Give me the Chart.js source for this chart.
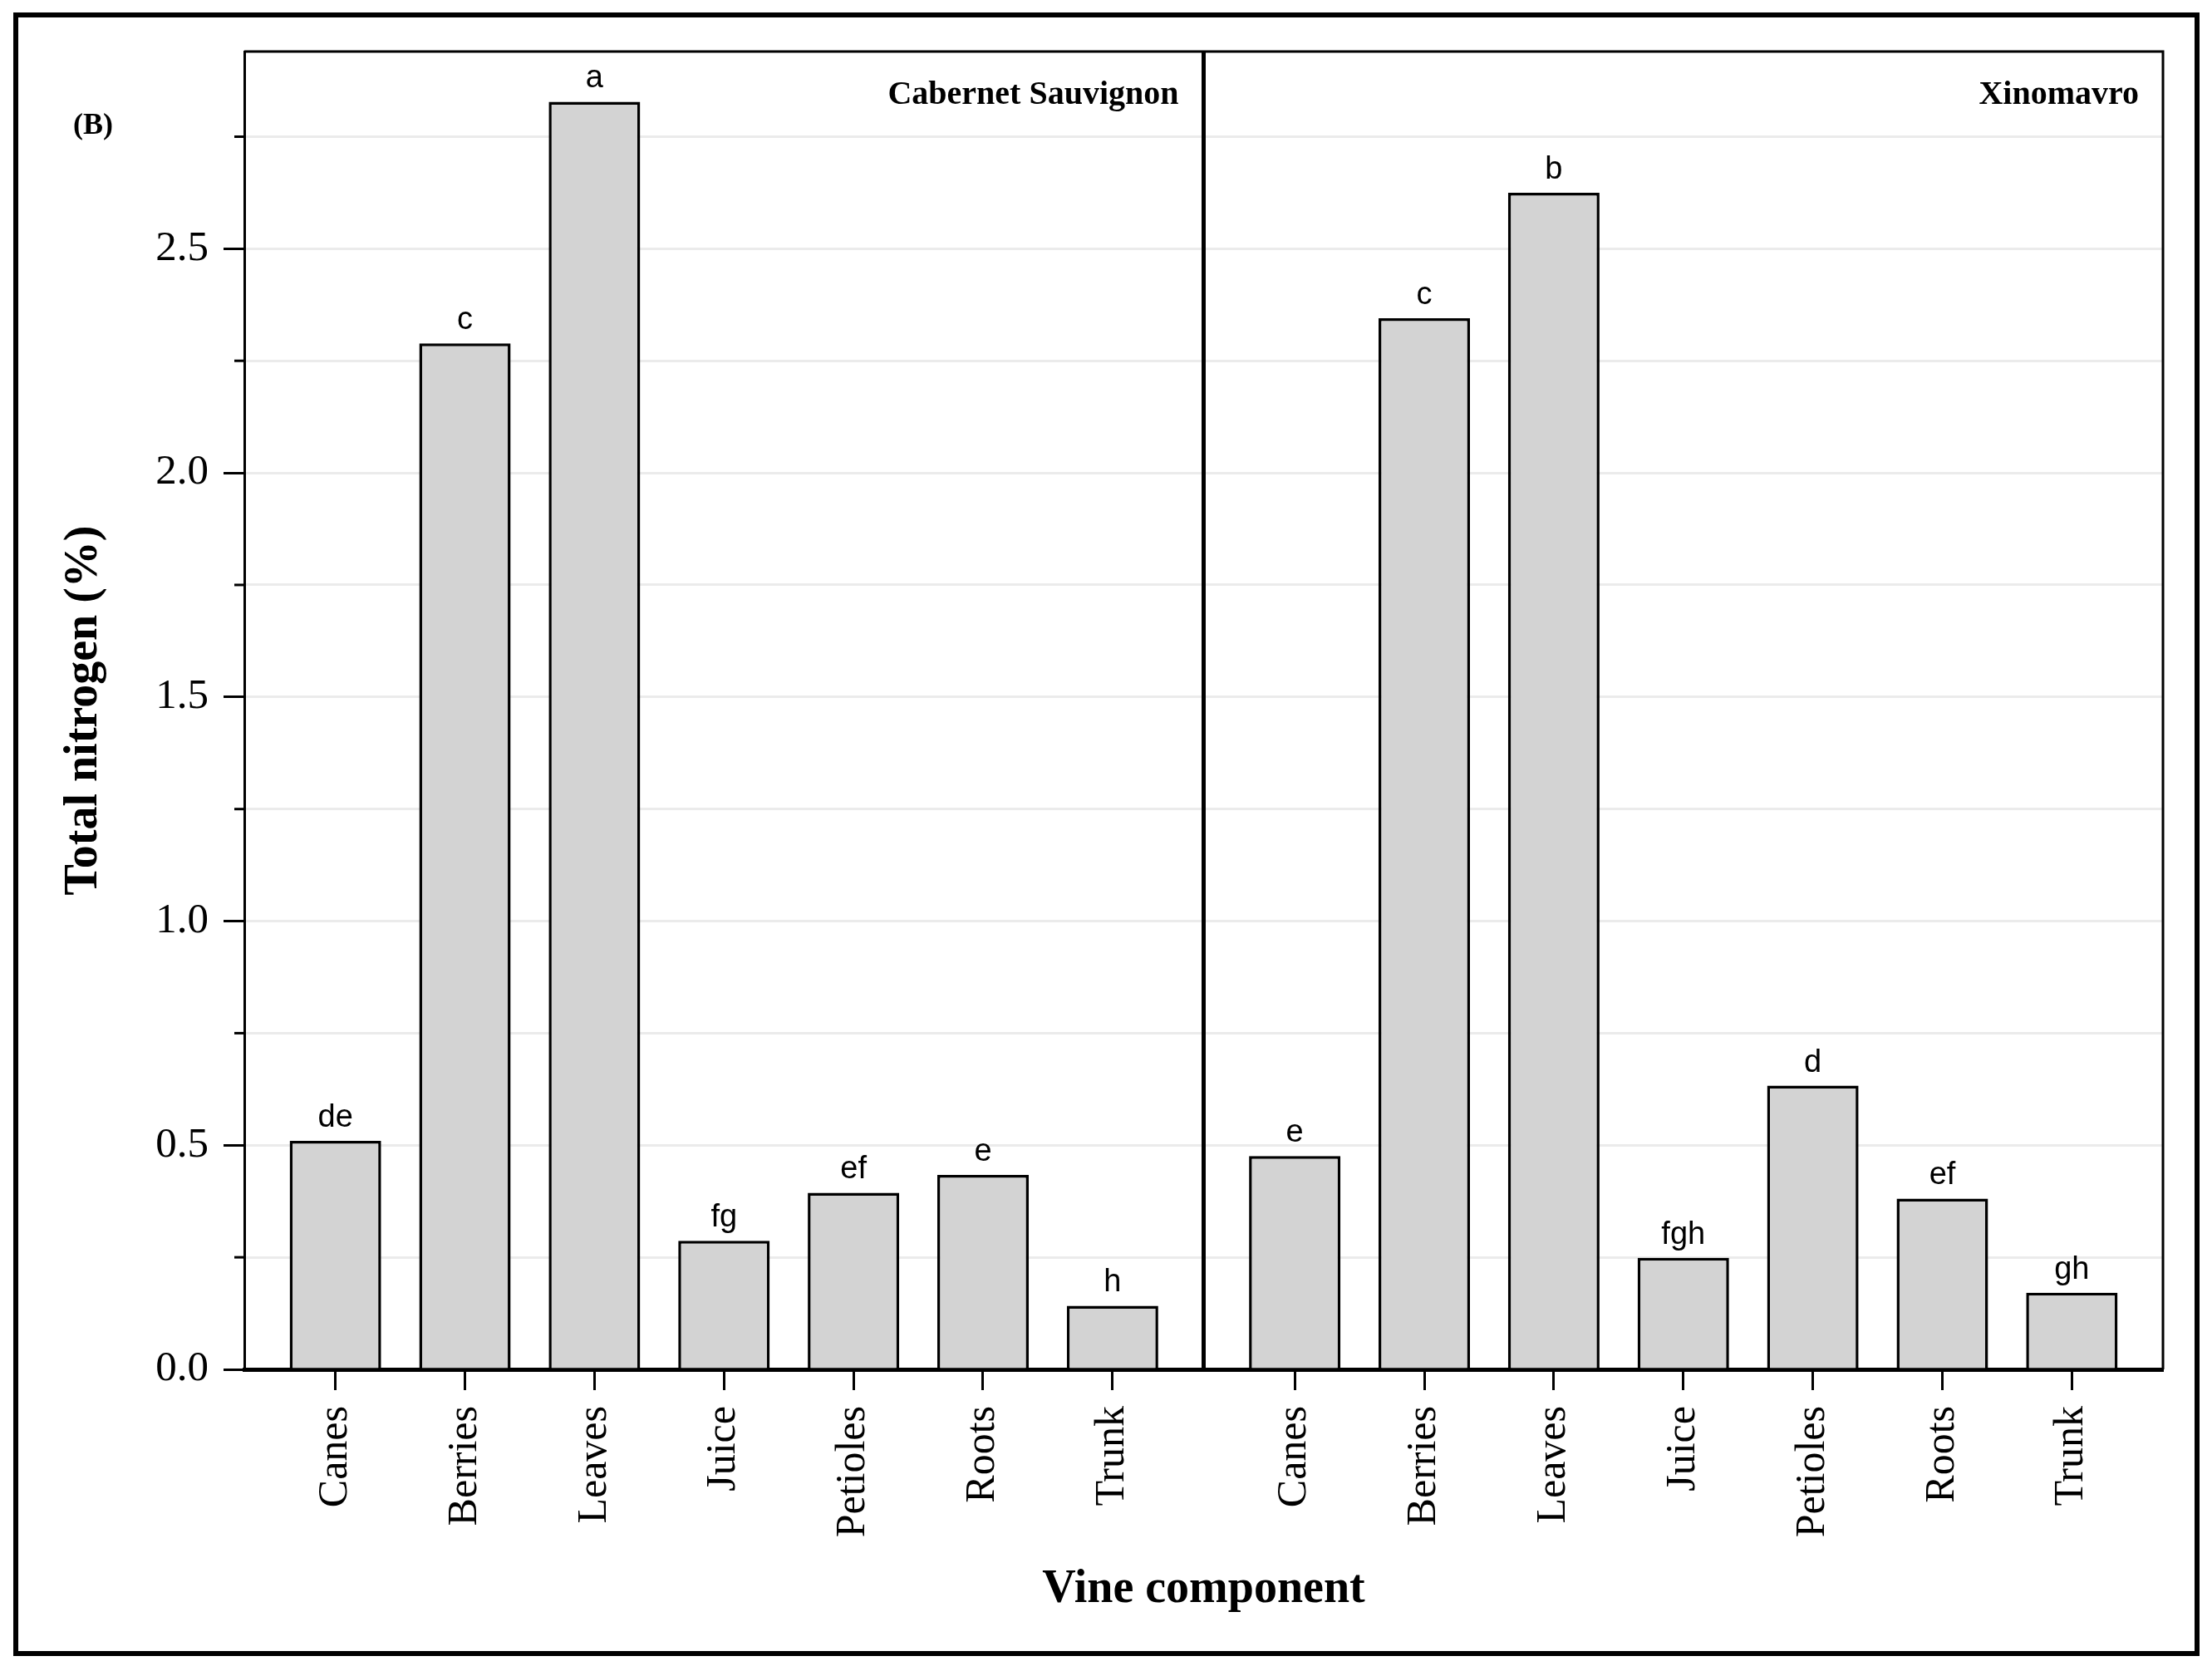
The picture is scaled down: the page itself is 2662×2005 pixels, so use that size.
<!DOCTYPE html>
<html>
<head>
<meta charset="utf-8">
<script src="https://cdn.jsdelivr.net/npm/chart.js@4.4.0/dist/chart.umd.min.js"></script>
<style>
  html, body { margin: 0; padding: 0; background: #fff; }
  #wrap { position: absolute; left: 0; top: 0; width: 2662px; height: 2005px; }
</style>
</head>
<body>
<div id="wrap"><canvas id="chart-nitrogen" width="2662" height="2005"></canvas></div>
<script>
// vine components, one bar each per cultivar
var components = ["Canes", "Berries", "Leaves", "Juice", "Petioles", "Roots", "Trunk"];
var cultivars = ["Cabernet Sauvignon", "Xinomavro"];
var cabernetValues = [0.510, 2.289, 2.828, 0.287, 0.394, 0.434, 0.142];
var xinomavroValues = [0.476, 2.345, 2.625, 0.249, 0.633, 0.381, 0.171];
var cabernetLetters = ["de", "c", "a", "fg", "ef", "e", "h"];
var xinomavroLetters = ["e", "c", "b", "fgh", "d", "ef", "gh"];

var serif = '"Liberation Serif", "Times New Roman", serif';
var sans = '"Liberation Sans", Arial, sans-serif';

// each panel = the components plus an empty margin on both sides
var edge = 0.7035;
var panelSpan = components.length - 1 + 2 * edge;

function panelPoints(values, panel) {
  return values.map(function (v, i) {
    return { x: i + panel * panelSpan, y: v };
  });
}

var tickPositions = [];
var tickLabels = [];
cultivars.forEach(function (c, p) {
  components.forEach(function (name, i) {
    tickPositions.push(i + p * panelSpan);
    tickLabels.push(name);
  });
});

function isMajor(v) {
  return Math.abs(v * 2 - Math.round(v * 2)) < 1e-6;
}

var panelFrame = {
  id: "panelFrame",
  beforeDraw: function (chart) {
    var ctx = chart.ctx;
    ctx.save();
    ctx.fillStyle = "#fff";
    ctx.fillRect(0, 0, chart.width, chart.height);
    ctx.strokeStyle = "#000";
    ctx.lineWidth = 6;
    ctx.strokeRect(19, 18, 2625, 1972);
    ctx.fillStyle = "#000";
    ctx.font = "bold 36px " + serif;
    ctx.textAlign = "left";
    ctx.textBaseline = "middle";
    ctx.fillText("(B)", 88, 152);
    ctx.restore();
  },
  afterDraw: function (chart) {
    var ctx = chart.ctx;
    var a = chart.chartArea;
    var xs = chart.scales.x;
    var ys = chart.scales.y;
    ctx.save();
    ctx.strokeStyle = "#000";
    ctx.lineWidth = 3;
    ctx.beginPath();
    ctx.moveTo(a.left, a.top);
    ctx.lineTo(a.right, a.top);
    ctx.lineTo(a.right, a.bottom);
    ctx.stroke();

    // divider between the two cultivars
    var dx = xs.getPixelForValue(panelSpan - edge);
    ctx.lineWidth = 5;
    ctx.beginPath();
    ctx.moveTo(dx, a.top);
    ctx.lineTo(dx, a.bottom);
    ctx.stroke();

    // minor y ticks
    ctx.lineWidth = 3;
    ys.ticks.forEach(function (t) {
      if (isMajor(t.value)) return;
      var py = ys.getPixelForValue(t.value);
      ctx.beginPath();
      ctx.moveTo(a.left - 12, py);
      ctx.lineTo(a.left, py);
      ctx.stroke();
    });

    // panel names
    ctx.fillStyle = "#000";
    ctx.font = "bold 40px " + serif;
    ctx.textAlign = "right";
    ctx.textBaseline = "alphabetic";
    ctx.fillText(cultivars[0], dx - 30, a.top + 63);
    ctx.fillText(cultivars[1], a.right - 29, a.top + 63);

    // significance letters
    var letters = [cabernetLetters, xinomavroLetters];
    ctx.font = "38px " + sans;
    ctx.textAlign = "center";
    letters.forEach(function (set, d) {
      chart.getDatasetMeta(d).data.forEach(function (bar, i) {
        ctx.fillText(set[i], bar.x, bar.y - 17);
      });
    });
    ctx.restore();
  }
};

var barStyle = {
  backgroundColor: "#d3d3d3",
  borderColor: "#000",
  borderWidth: 3.5,
  barPercentage: 0.706,
  categoryPercentage: 1,
  grouped: false
};

new Chart("chart-nitrogen", {
  type: "bar",
  data: {
    datasets: [
      Object.assign({ label: cultivars[0], data: panelPoints(cabernetValues, 0) }, barStyle),
      Object.assign({ label: cultivars[1], data: panelPoints(xinomavroValues, 1) }, barStyle)
    ]
  },
  options: {
    responsive: false,
    devicePixelRatio: 1,
    animation: false,
    layout: { padding: { top: 62, right: 59, bottom: 0, left: 0 } },
    plugins: {
      legend: { display: false },
      tooltip: { enabled: false }
    },
    scales: {
      x: {
        type: "linear",
        offset: false,
        min: -edge,
        max: 2 * panelSpan - edge,
        afterBuildTicks: function (scale) {
          scale.ticks = tickPositions.map(function (v) { return { value: v }; });
        },
        afterFit: function (scale) { scale.height = 357; },
        grid: {
          display: true,
          offset: false,
          drawOnChartArea: false,
          drawTicks: true,
          tickLength: 25,
          tickWidth: 3,
          tickColor: "#000"
        },
        border: { display: true, color: "#000", width: 5 },
        ticks: {
          autoSkip: false,
          maxRotation: 90,
          minRotation: 90,
          padding: 19,
          color: "#000",
          font: { family: serif, size: 50 },
          callback: function (value, index) { return tickLabels[index]; }
        },
        title: {
          display: true,
          text: "Vine component",
          color: "#000",
          font: { family: serif, size: 56, weight: "bold", lineHeight: 1.2 },
          padding: { top: 0, bottom: 58 }
        }
      },
      y: {
        min: 0,
        max: 2.94,
        afterFit: function (scale) { scale.width = 294; },
        grid: {
          color: "#ebebeb",
          lineWidth: 3,
          tickLength: 25,
          tickWidth: 3,
          tickColor: function (c) {
            return c.tick && isMajor(c.tick.value) ? "#000" : "rgba(0,0,0,0)";
          }
        },
        border: { display: true, color: "#000", width: 3 },
        ticks: {
          stepSize: 0.25,
          includeBounds: false,
          padding: 18,
          color: "#000",
          font: { family: serif, size: 51 },
          callback: function (value) { return isMajor(value) ? value.toFixed(1) : ""; }
        },
        title: {
          display: true,
          text: "Total nitrogen (%)",
          color: "#000",
          font: { family: serif, size: 56, weight: "bold", lineHeight: 1.2 },
          padding: { top: 68, bottom: 0 }
        }
      }
    }
  },
  plugins: [panelFrame]
});
</script>
</body>
</html>
